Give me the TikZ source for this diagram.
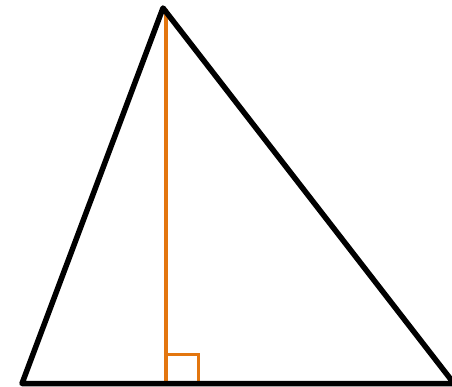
\documentclass[tikz,border=0pt]{standalone}
\usepackage{tikz}
\usetikzlibrary{calc}
\usepackage{xcolor}
\definecolor{heightcolor}{HTML}{E3760F}

\begin{document}
\begin{tikzpicture}[x=1pt, y=-1pt]
    \useasboundingbox (0,0) rectangle (452,386);

    % Vertices and foot of the altitude
    \coordinate (A) at (22, 383.5);
    \coordinate (B) at (454, 383.5);
    \coordinate (C) at (163, 8);
    \coordinate (H) at (166, 383.5);

    % Altitude
    \draw[heightcolor, line width=4.5pt] (166, 9) -- (H);

    % Right angle mark
    \draw[heightcolor, line width=3pt] ($(H)+(0,-29.5)$) -- ++(32,0) -- ++(0,29.5);

    % Triangle
    \draw[black, line width=5.5pt, line join=round] (A) -- (B) -- (C) -- cycle;
\end{tikzpicture}
\end{document}
